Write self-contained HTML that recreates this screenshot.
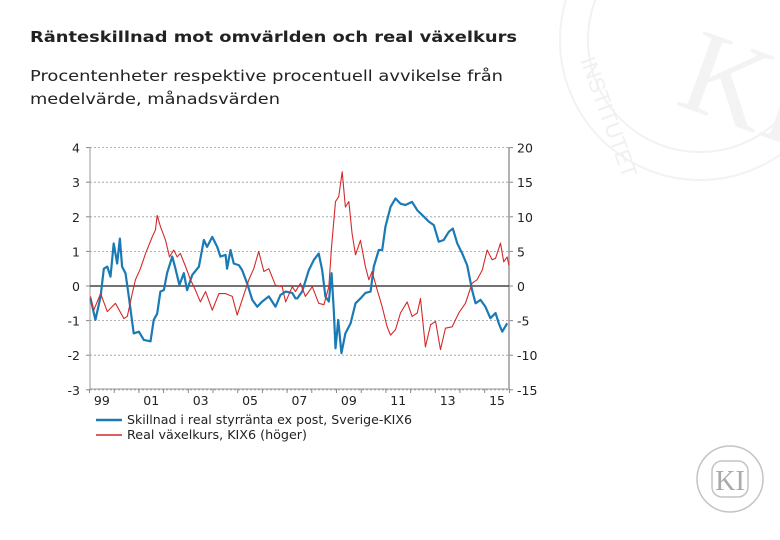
<!DOCTYPE html>
<html><head><meta charset="utf-8"><style>
body{margin:0;background:#fff;}
#wrap{position:relative;width:780px;height:540px;overflow:hidden;font-family:"DejaVu Sans","Liberation Sans",sans-serif;}
</style></head><body>
<div id="wrap">
<svg width="780" height="540" style="position:absolute;left:0;top:0">
<g fill="none" stroke="#f2f2f2" stroke-width="2">
<circle cx="700" cy="40" r="140"/><circle cx="700" cy="40" r="112"/>
</g>
<text x="690" y="110" font-family="Liberation Serif" font-size="120" fill="#f3f3f3" transform="rotate(20 700 60)">KI</text>
<text x="580" y="60" font-family="Liberation Sans" font-size="22" fill="#f0f0f0" transform="rotate(70 580 60)">INSTITUTET</text>
</svg>
<svg width="780" height="140" style="position:absolute;left:0;top:0">
<text x="30" y="42" font-family="DejaVu Sans" font-weight="bold" font-size="15" fill="#222" textLength="487" lengthAdjust="spacingAndGlyphs">Ränteskillnad mot omvärlden och real växelkurs</text>
<text x="30" y="81" font-family="DejaVu Sans" font-size="15" fill="#222" textLength="473" lengthAdjust="spacingAndGlyphs">Procentenheter respektive procentuell avvikelse från</text>
<text x="30" y="104" font-family="DejaVu Sans" font-size="15" fill="#222" textLength="250" lengthAdjust="spacingAndGlyphs">medelvärde, månadsvärden</text>
</svg>
<svg id="ch" width="780" height="540" style="position:absolute;left:0;top:0"></svg>
<svg width="780" height="540" style="position:absolute;left:0;top:0">
<g fill="none" stroke="#c4c4c4"><circle cx="730" cy="479" r="33" stroke-width="1.5"/><rect x="712" y="461" width="36" height="36" rx="10" stroke-width="1.5"/></g>
<text x="730" y="490" text-anchor="middle" font-family="Liberation Serif" font-size="28" fill="#aaa">KI</text>
</svg>
</div>
<script>
const tBlue=[0.04,0.24,0.45,0.58,0.72,0.85,0.98,1.12,1.23,1.32,1.46,1.59,1.79,2.0,2.2,2.47,2.6,2.74,2.87,3.01,3.14,3.35,3.48,3.64,3.82,3.95,4.16,4.43,4.63,4.76,4.97,5.17,5.3,5.51,5.57,5.71,5.84,6.05,6.18,6.38,6.59,6.79,6.99,7.26,7.53,7.73,7.94,8.21,8.34,8.41,8.61,8.88,9.08,9.28,9.42,9.55,9.69,9.8,9.89,9.96,10.07,10.2,10.36,10.57,10.77,10.97,11.17,11.38,11.51,11.71,11.85,11.98,12.19,12.39,12.59,12.79,13.06,13.27,13.47,13.74,13.94,14.14,14.34,14.55,14.71,14.89,15.09,15.29,15.49,15.63,15.83,16.03,16.23,16.44,16.57,16.71,16.91];
const vBlue=[-0.36,-0.98,-0.3,0.5,0.56,0.27,1.23,0.65,1.37,0.56,0.36,-0.3,-1.37,-1.32,-1.56,-1.6,-0.98,-0.8,-0.16,-0.12,0.37,0.85,0.5,0.03,0.37,-0.12,0.32,0.56,1.33,1.13,1.42,1.13,0.85,0.9,0.5,1.04,0.65,0.6,0.46,0.08,-0.4,-0.6,-0.45,-0.3,-0.6,-0.26,-0.16,-0.2,-0.36,-0.36,-0.16,0.46,0.75,0.94,0.46,-0.3,-0.45,0.37,-0.7,-1.8,-0.98,-1.94,-1.37,-1.08,-0.5,-0.36,-0.2,-0.16,0.56,1.04,1.04,1.71,2.29,2.53,2.38,2.34,2.43,2.19,2.05,1.86,1.76,1.28,1.33,1.57,1.66,1.23,0.94,0.6,-0.12,-0.5,-0.4,-0.6,-0.93,-0.78,-1.08,-1.32,-1.08];
const tRed=[0.04,0.17,0.45,0.72,1.05,1.39,1.53,1.73,1.86,2.06,2.27,2.54,2.67,2.74,2.87,3.08,3.24,3.41,3.55,3.68,3.89,4.09,4.29,4.49,4.7,4.97,5.24,5.51,5.78,5.98,6.18,6.45,6.65,6.85,7.06,7.26,7.53,7.8,7.94,8.21,8.34,8.54,8.74,9.02,9.28,9.49,9.69,9.8,9.96,10.09,10.23,10.36,10.5,10.63,10.77,10.97,11.17,11.31,11.44,11.65,11.85,12.05,12.19,12.39,12.59,12.86,13.06,13.27,13.4,13.6,13.81,14.01,14.21,14.41,14.68,14.95,15.22,15.49,15.69,15.9,16.1,16.3,16.44,16.64,16.77,16.91,16.98];
const vRed=[-1.5,-3.5,-1.1,-3.7,-2.5,-4.7,-4.4,-1.1,0.9,2.5,4.7,7.1,8.1,10.2,8.6,6.6,4.2,5.2,4.2,4.7,2.8,0.9,-0.6,-2.3,-0.8,-3.5,-1.1,-1.1,-1.5,-4.2,-2.0,0.9,2.5,5.0,2.1,2.5,0.1,-0.1,-2.3,-0.1,-0.8,0.4,-1.5,-0.1,-2.5,-2.7,-0.1,5.7,12.2,12.9,16.5,11.4,12.2,7.6,4.5,6.6,2.8,0.9,2.1,-0.6,-3.0,-5.9,-7.1,-6.3,-3.9,-2.3,-4.4,-3.9,-1.8,-8.8,-5.6,-5.1,-9.2,-6.1,-5.9,-3.9,-2.5,0.4,0.9,2.3,5.2,3.8,4.0,6.2,3.5,4.2,3.0];
const leftTicks=[4,3,2,1,0,-1,-2,-3];
const rightTicks=[20,15,10,5,0,-5,-10,-15];
const yearLabels=["99","01","03","05","07","09","11","13","15"];
const NS="http://www.w3.org/2000/svg";
const svg=document.getElementById('ch');
const X0=89.5,YW=24.7,Y0=286,U=34.6;
const xs=t=>X0+t*YW, yl=v=>Y0-v*U, yr=v=>Y0-v/5*U;
const FF='DejaVu Sans, Liberation Sans, sans-serif';
function mk(tag,at){const e=document.createElementNS(NS,tag);for(const k in at)e.setAttribute(k,at[k]);svg.appendChild(e);return e;}
leftTicks.forEach((v,i)=>{
 if(v!==0){const g=mk('line',{x1:90,x2:509,y1:yl(v),y2:yl(v),stroke:'#999','stroke-dasharray':'2,2','stroke-width':0.8});}
 const t=mk('text',{x:80,y:yl(v)+5,'text-anchor':'end','font-size':12.5,fill:'#222','font-family':FF});t.textContent=v;
 
 mk('line',{x1:86,x2:90,y1:yl(v),y2:yl(v),stroke:'#888'});
});
rightTicks.forEach(v=>{
 const t=mk('text',{x:517,y:yr(v)+5,'font-size':12.5,fill:'#222','font-family':FF});t.textContent=v;
 
 mk('line',{x1:509,x2:513,y1:yr(v),y2:yr(v),stroke:'#888'});
});
const la=mk('line',{x1:90,x2:90,y1:147,y2:389,stroke:'#999'});
const ra=mk('line',{x1:509,x2:509,y1:147,y2:389,stroke:'#999','stroke-width':1.5});
const xa=mk('line',{x1:90,x2:509,y1:389,y2:389,stroke:'#999'});
for(let i=0;i<=17;i++)mk('line',{x1:xs(i),x2:xs(i),y1:389,y2:393,stroke:'#888'});
yearLabels.forEach((s,i)=>{const t=mk('text',{x:xs(2*i+0.5),y:405,'text-anchor':'middle','font-size':12.5,fill:'#222','font-family':FF});t.textContent=s;
 });
const z=mk('line',{x1:90,x2:509,y1:Y0,y2:Y0,stroke:'#444','stroke-width':1.5});
const pb=mk('polyline',{points:tBlue.map((t,i)=>xs(t)+','+yl(vBlue[i])).join(' '),fill:'none',stroke:'#1a7ab5','stroke-width':2.2,'stroke-linejoin':'round'});

const pr=mk('polyline',{points:tRed.map((t,i)=>xs(t)+','+yr(vRed[i])).join(' '),fill:'none',stroke:'#d42a2a','stroke-width':1.1,'stroke-linejoin':'round'});

const l1=mk('line',{x1:96,x2:122,y1:420,y2:420,stroke:'#1a7ab5','stroke-width':2.5});
const t1=mk('text',{x:127,y:424,'font-size':12,fill:'#222','font-family':FF,textLength:285,lengthAdjust:'spacingAndGlyphs'});t1.textContent='Skillnad i real styrränta ex post, Sverige-KIX6';

const l2=mk('line',{x1:96,x2:122,y1:435,y2:435,stroke:'#d42a2a','stroke-width':1.5});
const t2=mk('text',{x:127,y:439,'font-size':12,fill:'#222','font-family':FF,textLength:180,lengthAdjust:'spacingAndGlyphs'});t2.textContent='Real växelkurs, KIX6 (höger)';

</script>
</body></html>
